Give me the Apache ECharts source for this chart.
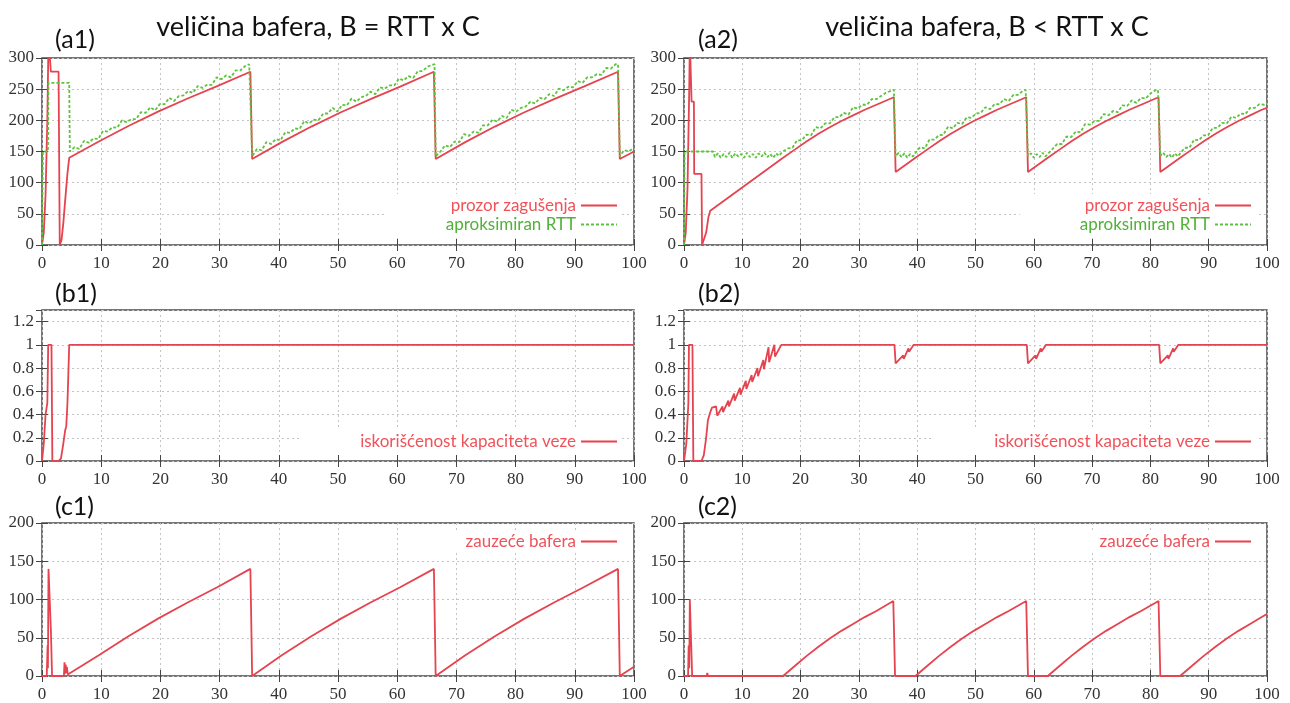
<!DOCTYPE html>
<html>
<head>
<meta charset="utf-8">
<script src="https://cdn.jsdelivr.net/npm/echarts@6/dist/echarts.min.js"></script>
<style>
  html, body { margin: 0; padding: 0; background: #fff; }
  #chart { width: 1290px; height: 703px; }
</style>
</head>
<body>
<div id="chart"></div>
<script>
  // panel texts
  let titles = ['veličina bafera, B = RTT x C', 'veličina bafera, B < RTT x C'];
  let panelLabels = ['(a1)', '(a2)', '(b1)', '(b2)', '(c1)', '(c2)'];
  let nameCwnd = 'prozor zagušenja';
  let nameRtt = 'aproksimiran RTT';
  let nameUtil = 'iskorišćenost kapaciteta veze';
  let nameBuf = 'zauzeće bafera';

  // x ticks (vrijeme) 0..100
  let xTicks = [0, 10, 20, 30, 40, 50, 60, 70, 80, 90, 100];

  // (a1) prozor zagusenja, B = RTT x C
  let a1Cwnd = [[0,0],[0.3,20],[0.6,80],[0.9,200],[1.1,330],[1.3,330],[1.5,278],[2.8,278],[3.0,0],[3.3,8],[3.6,35],[3.9,70],[4.3,115],[4.6,140],
    [9.6,166],[14.6,191],[19.6,214],[24.6,235],[29.6,255],[35.2,278],[35.5,138],
    [40.5,165],[45.5,190],[50.5,213],[55.5,234],[60.5,254],[66.2,278],[66.5,138],
    [71.5,165],[76.5,190],[81.5,213],[86.5,234],[91.5,254],[97.3,278],[97.6,138],[100,150]];

  // (a1) aproksimiran RTT
  let a1Rtt = [[0,0],[0.15,150],[1.0,150],[1.1,260],[4.6,260],[4.7,150],
    [5.5,157],[6.3,154],[7.1,167],[7.9,164],[8.7,171],[9.5,170],[10.3,183],[11.1,182],[11.9,189],[12.7,188],
    [13.5,200],[14.3,197],[15.1,202],[15.9,202],[16.7,213],[17.5,212],[18.3,221],[19.1,216],[19.9,226],[20.7,226],
    [21.5,236],[22.3,231],[23.1,239],[23.9,240],[24.7,247],[25.5,244],[26.3,255],[27.1,252],[27.9,257],[28.7,257],
    [29.5,269],[30.3,266],[31.1,272],[31.9,269],[32.7,280],[33.5,280],[34.3,287],[35.0,290],[35.3,290],[35.5,142],
    [36.3,154],[37.1,152],[37.9,165],[38.7,162],[39.5,170],[40.3,168],[41.1,181],[41.9,180],[42.7,187],[43.5,186],
    [44.3,199],[45.1,195],[45.9,201],[46.7,200],[47.5,211],[48.3,211],[49.1,220],[49.9,214],[50.7,225],[51.5,224],
    [52.3,235],[53.1,230],[53.9,237],[54.7,239],[55.5,246],[56.3,242],[57.1,253],[57.9,251],[58.7,256],[59.5,256],
    [60.3,267],[61.1,264],[61.9,271],[62.7,268],[63.5,279],[64.3,279],[65.1,286],[65.9,289],[66.3,290],[66.5,142],
    [67.3,150],[68.1,160],[68.9,157],[69.7,166],[70.5,165],[71.3,178],[72.1,175],[72.9,182],[73.7,180],[74.5,192],
    [75.3,192],[76.1,201],[76.9,198],[77.7,207],[78.5,204],[79.3,217],[80.1,214],[80.9,220],[81.7,222],[82.5,230],
    [83.3,227],[84.1,236],[84.9,234],[85.7,242],[86.5,239],[87.3,251],[88.1,248],[88.9,254],[89.7,253],[90.5,263],
    [91.3,260],[92.1,269],[92.9,269],[93.7,274],[94.5,273],[95.3,284],[96.1,283],[96.9,290],[97.3,290],[97.6,142],
    [98.3,152],[99.1,150],[100,156]];

  // (a2) prozor zagusenja, B < RTT x C
  let a2Cwnd = [[0,0],[0.3,20],[0.6,90],[0.9,250],[1.0,330],[1.2,330],[1.3,230],[1.7,230],[1.75,114],[3.0,114],[3.1,0],[3.4,3],[3.8,20],[4.2,45],[4.5,55],
    [17,140],[19,153],[21,166],[23,178],[25,189],[27,199],[29,208],[31,217],[33,225],[36,237],[36.3,117],
    [39.7,140],[41.7,153],[43.7,166],[45.7,178],[47.7,189],[49.7,199],[51.7,208],[53.7,217],[55.7,225],[58.7,237],[59.0,117],
    [62.4,140],[64.4,153],[66.4,166],[68.4,178],[70.4,189],[72.4,199],[74.4,208],[76.4,217],[78.4,225],[81.4,237],[81.7,117],
    [85.1,140],[87.1,153],[89.1,166],[91.1,178],[93.1,189],[95.1,199],[97.1,208],[99.1,217],[100,220]];

  // (a2) aproksimiran RTT
  let a2Rtt = [[0,0],[0.1,150],[5.0,150],
    [5.3,141],[5.8,147],[6.3,140],[6.8,146],[7.3,141],[7.8,148],[8.3,140],[8.8,147],[9.3,142],[9.8,146],[10.3,140],
    [10.8,148],[11.3,141],[11.8,146],[12.3,140],[12.8,147],[13.3,142],[13.8,148],[14.3,141],[14.8,146],[15.3,140],
    [15.8,147],[16.3,143],[16.8,149],[17.8,155],[18.6,156],[19.4,168],[20.2,168],[21.0,177],[21.8,176],[22.6,189],
    [23.4,187],[24.2,195],[25.0,195],[25.8,205],[26.6,205],[27.4,212],[28.2,209],[29.0,221],[29.8,219],[30.6,225],
    [31.4,225],[32.2,234],[33.0,234],[33.8,239],[34.6,244],[35.4,247],[36.0,249],[36.3,142],
    [36.8,148],[37.3,141],[37.8,147],[38.3,140],[38.8,146],[39.3,142],[39.8,149],
    [40.5,157],[41.3,155],[42.1,169],[42.9,169],[43.7,176],[44.5,177],[45.3,190],[46.1,187],[46.9,196],[47.7,194],
    [48.5,205],[49.3,204],[50.1,211],[50.9,212],[51.7,221],[52.5,218],[53.3,226],[54.1,226],[54.9,234],[55.7,231],
    [56.5,241],[57.3,241],[58.1,247],[58.6,249],[59.0,143],
    [59.5,147],[60.0,140],[60.5,146],[61.0,141],[61.5,148],[62.0,142],[62.5,147],
    [63.2,154],[64.0,162],[64.8,162],[65.6,174],[66.4,173],[67.2,182],[68.0,181],[68.8,194],[69.6,193],[70.4,199],
    [71.2,199],[72.0,210],[72.8,208],[73.6,215],[74.4,213],[75.2,224],[76.0,223],[76.8,232],[77.6,228],[78.4,236],
    [79.2,235],[80.0,243],[80.8,248],[81.3,249],[81.7,143],
    [82.2,148],[82.7,141],[83.2,146],[83.7,140],[84.2,147],[84.7,142],[85.2,148],
    [85.9,156],[86.7,156],[87.5,169],[88.3,168],[89.1,176],[89.9,176],[90.7,188],[91.5,188],[92.3,196],[93.1,195],
    [93.9,206],[94.7,204],[95.5,211],[96.3,210],[97.1,220],[97.9,220],[98.7,226],[99.5,225],[100,228]];

  // (b1) iskoriscenost kapaciteta veze
  let b1Util = [[0,0],[0.3,0.15],[0.6,0.4],[0.9,0.5],[1.05,1],[1.6,1],[1.75,0],[2.8,0],[3.2,0.02],[3.6,0.15],
    [3.9,0.26],[4.1,0.3],[4.3,0.5],[4.6,1],[100,1]];

  // (b2) iskoriscenost kapaciteta veze
  let b2Util = [[0,0],[0.4,0.15],[0.75,0.5],[0.85,1],[1.45,1],[1.6,0],[3.0,0],[3.4,0.05],[3.8,0.2],[4.1,0.35],
    [4.5,0.42],[4.8,0.46],[5.5,0.47],[5.7,0.39],[6.6,0.47],[6.7,0.42],[7.6,0.52],[7.7,0.47],[8.6,0.58],[8.7,0.52],
    [9.6,0.63],[9.7,0.57],[10.6,0.69],[10.7,0.62],[11.6,0.74],[11.7,0.68],[12.6,0.8],[12.7,0.73],[13.6,0.87],
    [13.7,0.79],[14.5,0.98],[14.6,0.85],[15.5,1],[15.6,0.9],[16.7,1],
    [36.1,1],[36.3,0.84],[37.6,0.91],[37.7,0.88],[38.5,0.97],[38.6,0.94],[39.4,1],
    [58.8,1],[59.0,0.84],[60.3,0.91],[60.4,0.88],[61.2,0.97],[61.3,0.94],[62.1,1],
    [81.5,1],[81.7,0.84],[83.0,0.91],[83.1,0.88],[83.9,0.97],[84.0,0.94],[84.8,1],[100,1]];

  // (c1) zauzece bafera
  let c1Buf = [[0,0],[0.8,0],[0.95,40],[1.0,10],[1.1,140],[1.35,140],[1.5,60],[1.7,0],[3.7,0],[3.8,18],[3.9,3],
    [4.0,15],[4.1,4],[4.2,12],[4.35,2],[4.6,0],
    [9.6,27],[14.6,52],[19.6,75],[24.6,96],[29.6,116],[35.2,140],[35.5,0],
    [40.5,27],[45.5,52],[50.5,75],[55.5,96],[60.5,116],[66.2,140],[66.5,0],
    [71.5,27],[76.5,52],[81.5,75],[86.5,96],[91.5,116],[97.3,140],[97.6,0],[100,12]];

  // (c2) zauzece bafera
  let c2Buf = [[0,0],[0.7,0],[0.8,40],[0.9,10],[1.0,100],[1.25,100],[1.4,0],[3.9,0],[4.0,4],[4.1,0],
    [17,0],[19,13],[21,26],[23,38],[25,49],[27,59],[29,68],[31,77],[33,85],[35.9,98],[36.2,0],
    [39.7,0],[41.7,13],[43.7,26],[45.7,38],[47.7,49],[49.7,59],[51.7,68],[53.7,77],[55.7,85],[58.7,98],[59.0,0],
    [62.4,0],[64.4,13],[66.4,26],[68.4,38],[70.4,49],[72.4,59],[74.4,68],[76.4,77],[78.4,85],[81.4,98],[81.7,0],
    [85.1,0],[87.1,13],[89.1,26],[91.1,38],[93.1,49],[95.1,59],[97.1,68],[99.1,77],[100,81]];

  let red = '#e5434f';
  let green = '#5cc43c';
  let tickFont = 'Liberation Sans Narrow';
  let textFont = 'Lato';

  // grid boxes: a1, a2, b1, b2, c1, c2
  let boxes = [
    {left: 42, top: 58, width: 592, height: 187, yMax: 300, yStep: 50},
    {left: 684, top: 58, width: 583, height: 187, yMax: 300, yStep: 50},
    {left: 42, top: 310, width: 592, height: 151, yMax: 1.3, yStep: 0.2},
    {left: 684, top: 310, width: 583, height: 151, yMax: 1.3, yStep: 0.2},
    {left: 42, top: 523, width: 592, height: 153, yMax: 200, yStep: 50},
    {left: 684, top: 523, width: 583, height: 153, yMax: 200, yStep: 50}
  ];

  let grid = [], xAxis = [], yAxis = [];
  let dotted = {show: true, lineStyle: {color: '#c4c4c4', type: [2, 3], width: 1}};
  let tick = {show: true, inside: true, length: 6, lineStyle: {color: '#444', width: 1}};

  boxes.forEach(function (b, i) {
    grid.push({
      left: b.left, top: b.top, width: b.width, height: b.height,
      show: true, borderColor: '#4a4a4a', borderWidth: 1.5, backgroundColor: '#fff',
      outerBoundsMode: 'none'
    });
    xAxis.push({
      gridIndex: i, type: 'value', min: xTicks[0], max: xTicks[xTicks.length - 1], interval: xTicks[1] - xTicks[0],
      axisLine: {show: false}, axisTick: tick, splitLine: dotted,
      axisLabel: {margin: 10, color: '#333', fontSize: 17, fontFamily: tickFont}
    });
    xAxis.push({
      gridIndex: i, type: 'value', position: 'top', min: 0, max: 100, interval: 10,
      axisLine: {show: false}, axisTick: tick, splitLine: {show: false}, axisLabel: {show: false}
    });
    yAxis.push({
      gridIndex: i, type: 'value', min: 0, max: b.yMax, interval: b.yStep,
      axisLine: {show: false}, axisTick: tick, splitLine: dotted,
      axisLabel: {margin: 8, color: '#333', fontSize: 17, fontFamily: tickFont, showMaxLabel: b.yMax !== 1.3}
    });
    yAxis.push({
      gridIndex: i, type: 'value', position: 'right', min: 0, max: b.yMax, interval: b.yStep,
      axisLine: {show: false}, axisTick: tick, splitLine: {show: false}, axisLabel: {show: false}
    });
  });

  function line(name, data, idx, color, dashed) {
    return {
      name: name, type: 'line', data: data,
      xAxisIndex: idx * 2, yAxisIndex: idx * 2,
      symbol: 'none', smooth: false, clip: true,
      lineStyle: {color: color, width: 1.8, type: dashed ? [3, 2] : 'solid'},
      itemStyle: {color: color}
    };
  }

  let series = [
    line(nameCwnd, a1Cwnd, 0, red),
    line(nameRtt, a1Rtt, 0, green, true),
    line(nameCwnd, a2Cwnd, 1, red),
    line(nameRtt, a2Rtt, 1, green, true),
    line(nameUtil, b1Util, 2, red),
    line(nameUtil, b2Util, 3, red),
    line(nameBuf, c1Buf, 4, red),
    line(nameBuf, c2Buf, 5, red)
  ];

  let redText = {color: '#f0525a'};
  let greenText = {color: '#4fb236'};

  function legend(items, right, top) {
    return {
      orient: 'vertical', align: 'right', right: right, top: top,
      itemWidth: 36, itemHeight: 14, itemGap: 2,
      padding: [3, 4, 3, 60], backgroundColor: '#fff',
      itemStyle: {color: 'rgba(0,0,0,0)', borderWidth: 0, opacity: 0},
      textStyle: {fontSize: 17, fontFamily: textFont},
      data: items
    };
  }

  let legends = [
    legend([{name: nameCwnd, textStyle: redText}, {name: nameRtt, textStyle: greenText}], 668, 194),
    legend([{name: nameCwnd, textStyle: redText}, {name: nameRtt, textStyle: greenText}], 34, 194),
    legend([{name: nameUtil, textStyle: redText}], 668, 430),
    legend([{name: nameUtil, textStyle: redText}], 34, 430),
    legend([{name: nameBuf, textStyle: redText}], 668, 530),
    legend([{name: nameBuf, textStyle: redText}], 34, 530)
  ];

  let labelPos = [[55, 40], [698, 40], [55, 294], [698, 294], [55, 507], [698, 507]];
  let graphic = [
    {type: 'text', x: 318, y: 27, style: {text: titles[0], font: '27px ' + textFont, fill: '#111', textAlign: 'center', textVerticalAlign: 'middle'}},
    {type: 'text', x: 987, y: 27, style: {text: titles[1], font: '27px ' + textFont, fill: '#111', textAlign: 'center', textVerticalAlign: 'middle'}}
  ];
  panelLabels.forEach(function (t, i) {
    graphic.push({type: 'text', x: labelPos[i][0], y: labelPos[i][1],
      style: {text: t, font: '25px ' + textFont, fill: '#111', textAlign: 'left', textVerticalAlign: 'middle'}});
  });

  let chart = echarts.init(document.getElementById('chart'));
  chart.setOption({
    animation: false,
    backgroundColor: '#fff',
    grid: grid,
    xAxis: xAxis,
    yAxis: yAxis,
    legend: legends,
    graphic: graphic,
    series: series
  });
</script>
</body>
</html>
